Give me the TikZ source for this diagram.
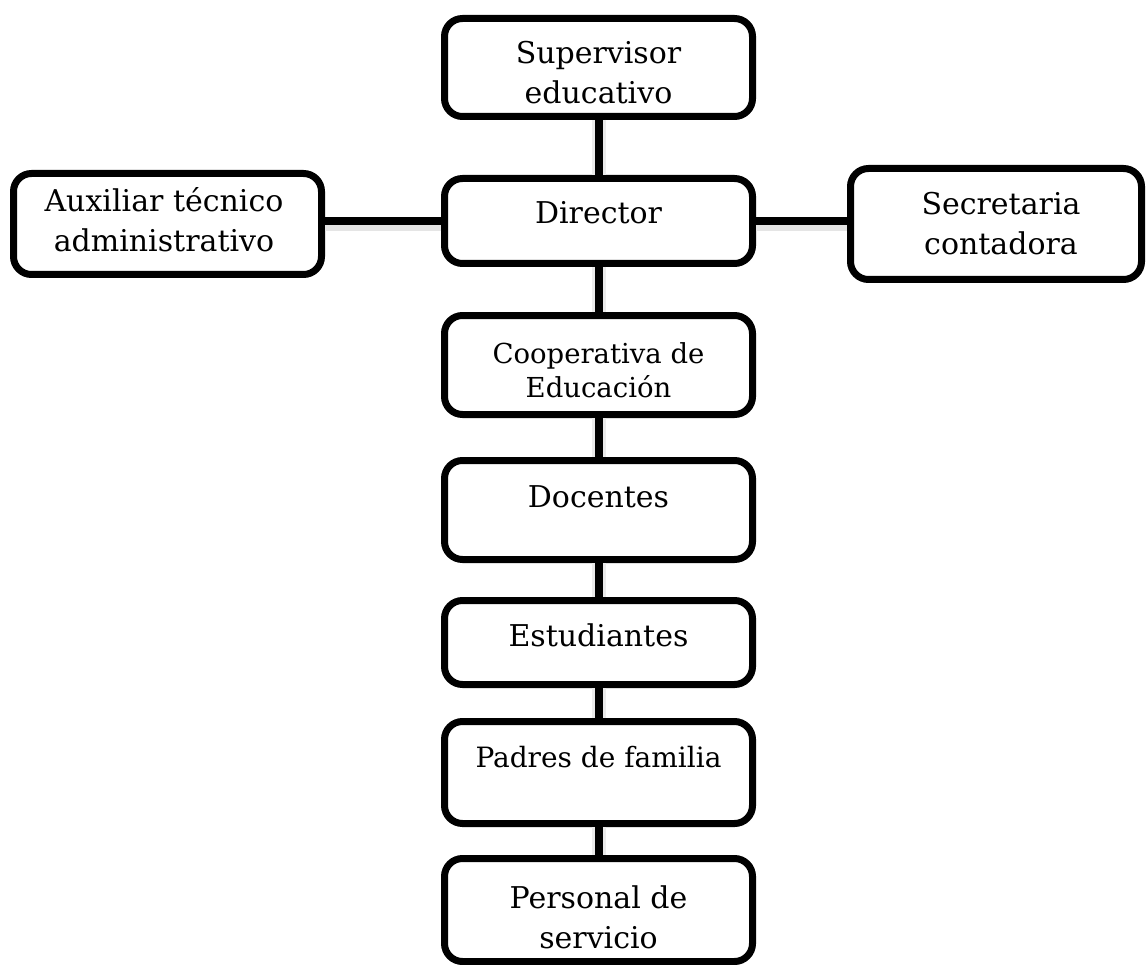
\documentclass[tikz,border=0pt]{standalone}
\usepackage{fontspec}
\setmainfont{DejaVu Serif}
\usetikzlibrary{calc}
\begin{document}
\begin{tikzpicture}[x=1pt,y=-1pt,
  box/.style={draw, line width=7pt, rounded corners=18pt, fill=white, inner sep=0pt, minimum width=308pt},
  lbl/.style={align=center, font=\fontsize{30}{40}\selectfont, inner sep=0pt},
  link/.style={line width=8pt},
  vglow/.style={line width=14pt, draw=black!8},
  hglow/.style={line width=8pt, draw=black!10}]
\useasboundingbox (0,0) rectangle (1147,965);
% boxes
\node[box, minimum height=98pt]  (sup)  at (598.5,67.5) {};
\node[box, minimum height=85pt]  (dir)  at (598.5,221) {};
\node[box, minimum height=101pt] (aux)  at (167.5,224) {};
\node[box, minimum width=291pt, minimum height=111pt] (sec) at (996,224) {};
\node[box, minimum height=99pt]  (coop) at (598.5,365) {};
\node[box, minimum height=99pt]  (doc)  at (598.5,510) {};
\node[box, minimum height=84pt]  (est)  at (598.5,642.5) {};
\node[box, minimum height=102pt] (pad)  at (598.5,772.5) {};
\node[box, minimum height=103pt] (per)  at (598.5,910) {};
% texts
\node[lbl] (tsup)  at (598.5,73)  {Supervisor\\educativo};
\node[lbl] (tdir)  at (598.5,213) {Director};
\node[lbl] (taux)  at (164,219.5) {Auxiliar técnico\\administrativo};
\node[lbl] (tsec)  at (1001,224)  {Secretaria\\contadora};
\node[lbl, font=\fontsize{27.5}{34}\selectfont] (tcoop) at (598.5,370) {Cooperativa de\\Educación};
\node[lbl] (tdoc)  at (598.5,497) {Docentes};
\node[lbl] (test)  at (598.5,635) {Estudiantes};
\node[lbl, font=\fontsize{28}{34}\selectfont] (tpad) at (598.5,757) {Padres de familia};
\node[lbl] (tper)  at (598.5,917) {Personal de\\servicio};
% glows
\foreach \a/\b in {sup/dir, dir/coop, coop/doc, doc/est, est/pad, pad/per}
  \draw[vglow] (\a.south) -- (\b.north);
\draw[hglow] ([yshift=-6pt]dir.west) -- ([yshift=-6pt]dir.west -| aux.east);
\draw[hglow] ([yshift=-6pt]dir.east) -- ([yshift=-6pt]dir.east -| sec.west);
% connectors
\foreach \a/\b in {sup/dir, dir/coop, coop/doc, doc/est, est/pad, pad/per}
  \draw[link] (\a.south) -- (\b.north);
\draw[link] (dir.west) -- (dir.west -| aux.east);
\draw[link] (dir.east) -- (dir.east -| sec.west);
\end{tikzpicture}
\end{document}
